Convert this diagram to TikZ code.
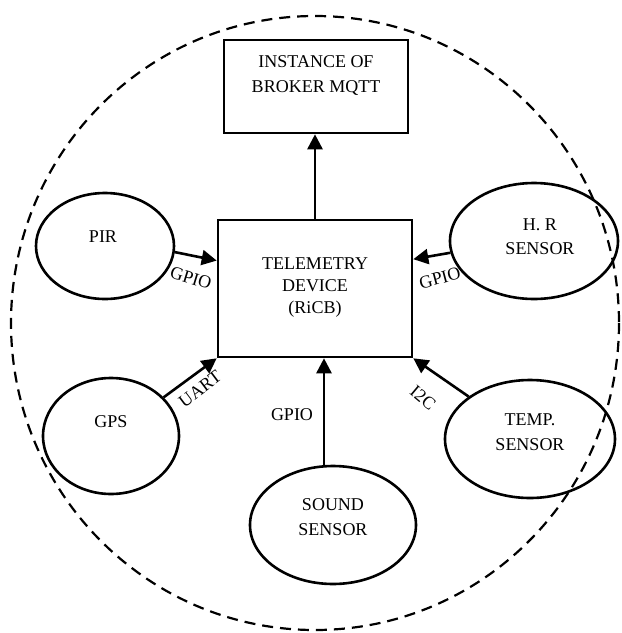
\documentclass[tikz,border=0pt]{standalone}
\usepackage{fontspec}
\setmainfont{Liberation Serif}
\usetikzlibrary{shapes.geometric,arrows.meta,calc}
\begin{document}
\begin{tikzpicture}[x=1pt,y=-1pt,
  every node/.style={font=\fontsize{18}{24}\selectfont},
  boxn/.style={draw,line width=2.6pt,inner sep=0pt},
  sensor/.style={draw,ellipse,line width=2.6pt,inner sep=0pt},
  txt/.style={align=center,inner sep=0pt},
  lbl/.style={inner sep=0pt},
  arr/.style={line width=2.6pt,-{Triangle[length=15pt,width=15pt]}},
  ring/.style={line width=2.2pt,dash pattern=on 11pt off 7pt}]
\useasboundingbox (0,0) rectangle (622,633);
% outer dashed boundary
\draw[ring] (315,323) ellipse [x radius=304, y radius=307];
% boxes
\node[boxn,minimum width=184pt,minimum height=93pt] (broker) at (316,86.5) {};
\node[txt,font=\fontsize{18}{25}\selectfont] (brokerT) at (316,75) {INSTANCE OF\\BROKER MQTT};
\node[boxn,minimum width=194pt,minimum height=137pt] (tel) at (315,288.5) {};
\node[txt,font=\fontsize{18}{22}\selectfont] (telT) at (315,288) {TELEMETRY\\DEVICE\\(RiCB)};
% sensors
\node[sensor,minimum width=138pt,minimum height=106pt] (pir) at (105,246) {};
\node[txt] (pirT) at (103,237) {PIR};
\node[sensor,minimum width=168pt,minimum height=116pt] (hr) at (534,241) {};
\node[txt,font=\fontsize{18}{24}\selectfont] (hrT) at (540,237) {H. R\\SENSOR};
\node[sensor,minimum width=136pt,minimum height=116pt] (gps) at (111,436) {};
\node[txt] (gpsT) at (111,422) {GPS};
\node[sensor,minimum width=170pt,minimum height=118pt] (temp) at (530,439) {};
\node[txt,font=\fontsize{18}{25}\selectfont] (tempT) at (530,432) {TEMP.\\SENSOR};
\node[sensor,minimum width=166pt,minimum height=118pt] (sound) at (333,525) {};
\node[txt,font=\fontsize{18}{25}\selectfont] (soundT) at (333,517) {SOUND\\SENSOR};
% connectors
\coordinate (sa) at ($(sound.north)+(-9,0.5)$);
\draw[arr] (tel.north) -- (tel.north |- broker.south);
\draw[arr] (pir.355) -- ($(tel.north west)!0.3!(tel.south west)$);
\draw[arr] (hr.188) -- ($(tel.north east)!0.29!(tel.south east)$);
\draw[arr] (gps) -- (tel.south west);
\draw[arr] (temp) -- (tel.south east);
\draw[arr] (sa) -- (sa |- tel.south);
% labels
\node[lbl,rotate=-17] (l1) at (191,278) {GPIO};
\node[lbl,rotate=15] (l2) at (440,278) {GPIO};
\node[lbl,rotate=37] (l3) at (200,389) {UART};
\node[lbl,rotate=-40] (l4) at (423,398) {I2C};
\node[lbl] (l5) at (292,415) {GPIO};
\end{tikzpicture}
\end{document}
